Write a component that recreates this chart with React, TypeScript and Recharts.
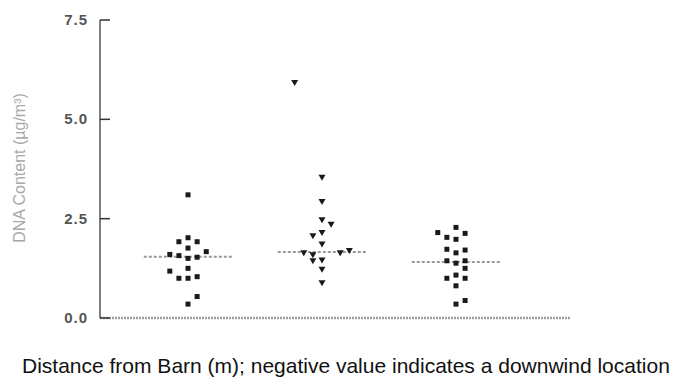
import { ScatterChart, Scatter, XAxis, YAxis, ReferenceLine, Label } from "recharts";

// groups sit at x = 1, 2, 3 on a hidden numeric axis
const groupPositions = [1, 2, 3];
const jitterStep = 0.068;

// DNA content (µg/m³), with horizontal jitter in steps
const group1Values = [3.1, 1.92, 2.02, 1.92, 1.76, 1.6, 1.57, 1.5, 1.53, 1.67, 1.25, 1.18, 1.0, 1.0, 1.04, 0.54, 0.35];
const group1Jitter = [0, -1, 0, 1, 0, -2, -1, 0, 1, 2, 0, -2, -1, 0, 1, 1, 0];

const group2Values = [5.93, 3.54, 2.93, 2.47, 2.36, 2.15, 2.07, 1.86, 1.64, 1.59, 1.44, 1.46, 1.23, 0.89, 1.64, 1.7];
const group2Jitter = [-3, 0, 0, 0, 1, 0, -1, 0, -2, -1, -1, 0, 0, 0, 2, 3];

const group3Values = [2.15, 2.28, 2.03, 1.98, 2.13, 1.73, 1.64, 1.71, 1.44, 1.38, 1.44, 1.25, 1.0, 1.08, 1.0, 0.81, 0.35, 0.44];
const group3Jitter = [-2, 0, -1, 0, 1, -1, 0, 1, -1, 0, 1, 1, -1, 0, 1, 0, 0, 1];

const medians = [1.54, 1.66, 1.41];
const medianHalfWidth = 0.33;

const yTicks = [0, 2.5, 5, 7.5];

const toPoints = (pos: number, values: number[], jitter: number[]) =>
  values.map((v, i) => ({ x: pos + jitter[i] * jitterStep, y: v }));

const group1 = toPoints(groupPositions[0], group1Values, group1Jitter);
const group2 = toPoints(groupPositions[1], group2Values, group2Jitter);
const group3 = toPoints(groupPositions[2], group3Values, group3Jitter);

const SquareDot = (props: any) => {
  const { cx, cy } = props;
  if (cx == null || cy == null) return null;
  return <rect x={cx - 2.5} y={cy - 2.5} width={5} height={5} fill="#1a1a1a" />;
};

const TriangleDot = (props: any) => {
  const { cx, cy } = props;
  if (cx == null || cy == null) return null;
  return <path d={`M${cx - 3.5},${cy - 2.5} L${cx + 3.5},${cy - 2.5} L${cx},${cy + 3.5} Z`} fill="#1a1a1a" />;
};

const YTick = (props: any) => {
  const { x, y, payload } = props;
  return (
    <g>
      <text
        x={x}
        y={y}
        dy={5}
        textAnchor="end"
        fontSize={15}
        fontWeight="bold"
        letterSpacing={1}
        fill="#555"
        fontFamily="Liberation Sans, Arial, sans-serif"
      >
        {Number(payload.value).toFixed(1)}
      </text>
      <line x1={x + 12} x2={x + 22} y1={y} y2={y} stroke="#333" strokeWidth={1.5} />
    </g>
  );
};

export default function App() {
  return (
    <div style={{ position: "absolute", left: 0, top: 0, width: 677, height: 387, background: "#fff" }}>
      <ScatterChart width={677} height={387} margin={{ top: 20, right: 107, bottom: 39, left: 0 }}>
        <XAxis
          type="number"
          dataKey="x"
          domain={[0.343, 3.851]}
          ticks={[]}
          tick={false}
          tickLine={false}
          height={30}
          axisLine={{ stroke: "#a39d9d", strokeWidth: 2.5, strokeDasharray: "2 1" }}
        >
          <Label
            content={() => (
              <text
                x={22}
                y={373}
                fontSize={21}
                fill="#111"
                fontFamily="Liberation Sans, Arial, sans-serif"
              >
                Distance from Barn (m); negative value indicates a downwind location
              </text>
            )}
          />
        </XAxis>
        <YAxis
          type="number"
          dataKey="y"
          domain={[0, 7.5]}
          ticks={yTicks}
          width={100}
          tickSize={0}
          tickMargin={12}
          tickLine={false}
          tick={<YTick />}
          axisLine={{ stroke: "#555", strokeWidth: 1.5 }}
        >
          <Label
            content={() => (
              <text
                x={25}
                y={168}
                transform="rotate(-90 25 168)"
                textAnchor="middle"
                fontSize={16}
                fill="#a8a8a8"
                fontFamily="Liberation Sans, Arial, sans-serif"
              >
                DNA Content (µg/m³)
              </text>
            )}
          />
        </YAxis>
        {groupPositions.map((pos, i) => (
          <ReferenceLine
            key={pos}
            segment={[
              { x: pos - medianHalfWidth, y: medians[i] },
              { x: pos + medianHalfWidth, y: medians[i] },
            ]}
            stroke="#999"
            strokeWidth={2}
            strokeDasharray="3 2"
          />
        ))}
        <Scatter data={group1} shape={<SquareDot />} isAnimationActive={false} />
        <Scatter data={group2} shape={<TriangleDot />} isAnimationActive={false} />
        <Scatter data={group3} shape={<SquareDot />} isAnimationActive={false} />
      </ScatterChart>
    </div>
  );
}
